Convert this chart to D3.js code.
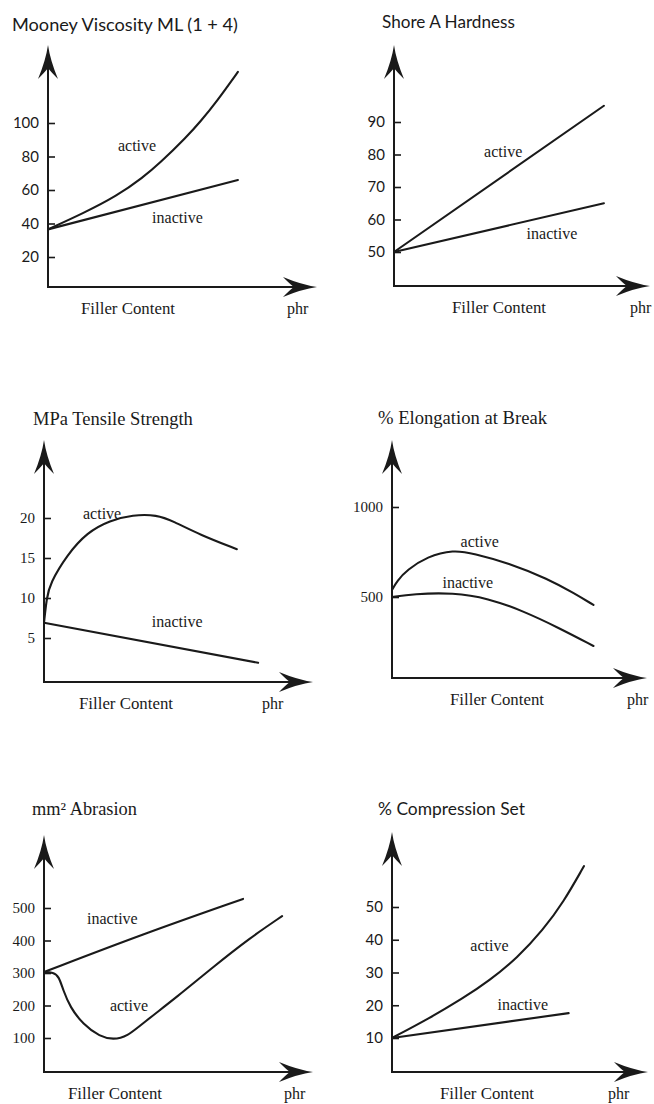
<!DOCTYPE html>
<html>
<head>
<meta charset="utf-8">
<script src="https://cdn.jsdelivr.net/npm/d3@7"></script>
<style>
  body { margin: 0; background: #fff; }
  text { fill: #1a1a1a; }
</style>
</head>
<body>
<div id="chart"></div>
<script>
const titles = ["Mooney Viscosity ML (1 + 4)", "Shore A Hardness", "MPa Tensile Strength",
                "% Elongation at Break", "mm\u00B2 Abrasion", "% Compression Set"];
const seriesNames = ["active", "inactive"];
const xLabel = "Filler Content";
const xUnit = "phr";

const mooneyTicks = [20, 40, 60, 80, 100];
const mooneyActive = [[0,36.5],[13,46],[25.7,56.5],[35.3,67.5],[41.6,76],[51.7,92],[56.5,100.5],[62.8,113],[70.6,130.5]];
const mooneyInactive = [[0,36.5],[70.6,66]];

const shoreTicks = [50, 60, 70, 80, 90];
const shoreActive = [[0,50],[82,95]];
const shoreInactive = [[0,50],[82,65]];

const tensileTicks = [5, 10, 15, 20];
const tensileActive = [[0,6.9],[1,10],[2.2,11.8],[8.6,15.4],[16,18.2],[24.5,19.7],[33,20.4],[42,20.4],[48,19.6],[58,17.9],[71.7,16.1]];
const tensileInactive = [[0,6.9],[79.6,1.9]];

const elongTicks = [500, 1000];
const elongActive = [[0,539],[2,590],[5.9,650],[13.8,725],[24.1,762],[32,742],[45.5,690],[61.3,600],[71.5,520],[79,456]];
const elongInactive = [[0,500],[8.3,517],[24.1,524],[37.5,494],[51.8,420],[65.2,330],[79,228]];

const abrasionTicks = [100, 200, 300, 400, 500];
const abrasionActive = [[0,303],[3.5,302],[5.5,290],[7.1,248],[9.7,195],[14.5,142],[20.8,104],[25.7,95],[30.9,104],[36.8,146],[49.4,226],[62.8,318],[76.6,408],[88.5,475]];
const abrasionInactive = [[0,303],[36.8,420],[74,528]];

const compTicks = [10, 20, 30, 40, 50];
const compActive = [[0,10],[14.5,16],[27.5,22],[38,27.5],[49,34.5],[59,43],[67,51.5],[75,62.5]];
const compInactive = [[0,10],[69,17.6]];

const ticks = [mooneyTicks, shoreTicks, tensileTicks, elongTicks, abrasionTicks, compTicks];
const activeSeries = [mooneyActive, shoreActive, tensileActive, elongActive, abrasionActive, compActive];
const inactiveSeries = [mooneyInactive, shoreInactive, tensileInactive, elongInactive, abrasionInactive, compInactive];

// geometry of each panel (pixels), label anchors in data units
const layout = [
  {axisX: 48,  top: 45,  base: 287,  right: 317, yRef: [20,257,100,123], tx: 12,  ty: 31,  tw: 226, sans: true,
   act: [26,83.3],  ina: [38.7,40.3], fx: 128, px: 287},
  {axisX: 394, top: 45,  base: 286,  right: 650, yRef: [50,252,90,122],  tx: 382, ty: 28,  tw: 133, sans: true,
   act: [35.2,79.2], ina: [51.8,54],  fx: 499, px: 630},
  {axisX: 44,  top: 440, base: 682,  right: 313, yRef: [5,638,20,518],   tx: 33,  ty: 425, tw: 160, sans: false,
   act: [14.5,19.9], ina: [40.1,6.4], fx: 126, px: 262},
  {axisX: 392, top: 440, base: 678,  right: 647, yRef: [500,597,1000,507], tx: 378, ty: 424, tw: 169, sans: false,
   act: [26.9,778], ina: [19.8,550],  fx: 497, px: 627},
  {axisX: 44,  top: 835, base: 1072, right: 313, yRef: [100,1038,500,908], tx: 32,  ty: 815, tw: 105, sans: false,
   act: [24.5,183], ina: [16,451],    fx: 115, px: 284},
  {axisX: 392, top: 832, base: 1072, right: 648, yRef: [10,1038,50,907],  tx: 378, ty: 815, tw: 147, sans: true,
   act: [30.6,36.6], ina: [41.2,18.5], fx: 487, px: 608}
];

const serif = "'Liberation Serif', 'DejaVu Serif', serif";
const sans = "Lato, 'Open Sans', sans-serif";
const ink = "#1a1a1a";

const svg = d3.select("#chart").append("svg")
  .attr("width", 654)
  .attr("height", 1104);

// swept-back arrow head, tip at origin, pointing +x
function arrowHead(len, half) {
  return `M0,0 Q${-len*0.45},${-half*0.22} ${-len},${-half} Q${-len*0.8},${-half*0.3} ${-len*0.68},0 ` +
         `Q${-len*0.8},${half*0.3} ${-len},${half} Q${-len*0.45},${half*0.22} 0,0Z`;
}

// text sized so it spans the given width
function fitText(sel, width) {
  const len = sel.node().getComputedTextLength();
  const fs = parseFloat(sel.attr("font-size"));
  sel.attr("font-size", (fs * width / len).toFixed(2));
}

layout.forEach((p, i) => {
  const g = svg.append("g");
  const x = d3.scaleLinear().domain([0, 100]).range([p.axisX, p.right]);
  const y = d3.scaleLinear().domain([p.yRef[0], p.yRef[2]]).range([p.yRef[1], p.yRef[3]]);

  // axes with arrows
  g.append("line").attr("x1", p.axisX).attr("x2", p.axisX)
    .attr("y1", p.base).attr("y2", p.top + 8)
    .attr("stroke", ink).attr("stroke-width", 2);
  g.append("line").attr("x1", p.axisX - 1).attr("x2", p.right - 8)
    .attr("y1", p.base).attr("y2", p.base)
    .attr("stroke", ink).attr("stroke-width", 2);
  g.append("path").attr("d", arrowHead(34, 10))
    .attr("transform", `translate(${p.axisX},${p.top}) rotate(-90)`)
    .attr("fill", ink);
  g.append("path").attr("d", arrowHead(34, 10))
    .attr("transform", `translate(${p.right},${p.base})`)
    .attr("fill", ink);

  // y ticks pointing inward, labels on the left
  const yAxis = g.append("g")
    .attr("transform", `translate(${p.axisX},0)`)
    .call(d3.axisLeft(y).tickValues(ticks[i]).tickFormat(d3.format("d"))
      .tickSizeInner(-7).tickSizeOuter(0).tickPadding(9));
  yAxis.select(".domain").remove();
  yAxis.selectAll(".tick line").attr("stroke", ink).attr("stroke-width", 1.6);
  yAxis.selectAll(".tick text")
    .attr("fill", ink)
    .attr("font-family", p.sans ? sans : serif)
    .attr("font-size", 15);

  // curves
  const line = d3.line()
    .x(d => x(d[0]))
    .y(d => y(d[1]))
    .curve(d3.curveBasis);
  [activeSeries[i], inactiveSeries[i]].forEach(s => {
    g.append("path").datum(s)
      .attr("d", line)
      .attr("fill", "none")
      .attr("stroke", ink)
      .attr("stroke-width", 2.1)
      .attr("stroke-linecap", "round");
  });

  // series labels
  g.append("text").attr("x", x(p.act[0])).attr("y", y(p.act[1]))
    .attr("font-family", serif).attr("font-size", 16).text(seriesNames[0]);
  g.append("text").attr("x", x(p.ina[0])).attr("y", y(p.ina[1]))
    .attr("font-family", serif).attr("font-size", 16).text(seriesNames[1]);

  // titles
  const t = g.append("text").attr("x", p.tx).attr("y", p.ty)
    .attr("font-family", p.sans ? sans : serif).attr("font-size", 18)
    .text(titles[i]);
  fitText(t, p.tw);

  // x axis caption
  const f = g.append("text").attr("x", p.fx).attr("y", p.base + 27)
    .attr("text-anchor", "middle")
    .attr("font-family", serif).attr("font-size", 17)
    .text(xLabel);
  fitText(f, 94);
  g.append("text").attr("x", p.px).attr("y", p.base + 27)
    .attr("font-family", serif).attr("font-size", 16)
    .text(xUnit);
});
</script>
</body>
</html>
